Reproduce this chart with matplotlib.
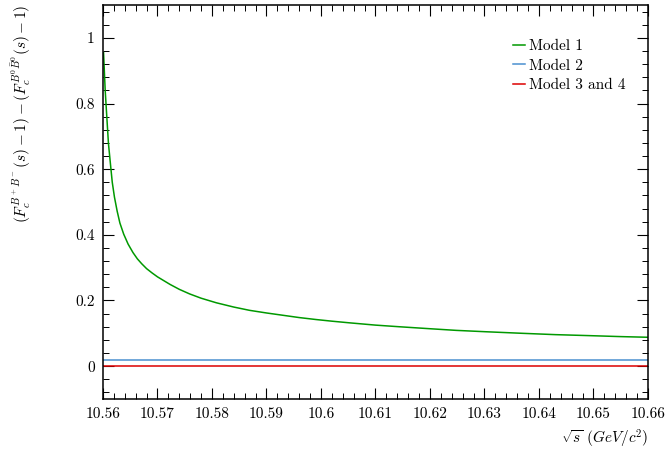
import numpy as np
import matplotlib
matplotlib.use('Agg')
import matplotlib.pyplot as plt
from matplotlib.ticker import MultipleLocator, FormatStrFormatter

# values
sqrt_s_m1 = [10.5601, 10.5602, 10.5604, 10.5607, 10.5610, 10.5614, 10.5617,
             10.5621, 10.5626, 10.5631, 10.5638, 10.5646, 10.5655, 10.5663,
             10.5671, 10.5680, 10.5690, 10.5700, 10.5712, 10.5723, 10.5740,
             10.5759, 10.5780, 10.5808, 10.5840, 10.5869, 10.5900, 10.5930,
             10.5960, 10.5991, 10.6020, 10.6052, 10.6100, 10.6144, 10.6200,
             10.6248, 10.6300, 10.6370, 10.6430, 10.6492, 10.6550, 10.6600]
diff_m1 = [0.955, 0.917, 0.841, 0.759, 0.678, 0.610, 0.560,
           0.515, 0.472, 0.436, 0.402, 0.372, 0.346, 0.327,
           0.312, 0.297, 0.284, 0.272, 0.260, 0.249, 0.234,
           0.220, 0.207, 0.193, 0.180, 0.170, 0.162, 0.155,
           0.148, 0.142, 0.137, 0.132, 0.125, 0.120, 0.114,
           0.109, 0.105, 0.100, 0.096, 0.093, 0.090, 0.088]

sqrt_s_flat = [10.56, 10.66]
diff_m2 = [0.018, 0.018]
diff_m34 = [0.0, 0.0]

plt.rcParams['font.family'] = 'serif'
plt.rcParams['font.serif'] = ['cmr10']
plt.rcParams['mathtext.fontset'] = 'cm'
plt.rcParams['axes.unicode_minus'] = False

fig = plt.figure(figsize=(6.71, 4.55), dpi=100)
ax = fig.add_axes([0.1535, 0.1231, 0.8122, 0.8659])

ax.plot(sqrt_s_m1, diff_m1, color='#009900', lw=1.1, label='Model 1')
ax.plot(sqrt_s_flat, diff_m2, color='#4a90d0', lw=1.1, label='Model 2')
ax.plot(sqrt_s_flat, diff_m34, color='#dd0000', lw=1.1, label='Model 3 and 4')

ax.set_xlim(10.56, 10.66)
ax.set_ylim(-0.1, 1.1)

ax.xaxis.set_major_locator(MultipleLocator(0.01))
ax.xaxis.set_minor_locator(MultipleLocator(0.002))
ax.yaxis.set_major_locator(MultipleLocator(0.2))
ax.yaxis.set_minor_locator(MultipleLocator(0.04))
ax.xaxis.set_major_formatter(FormatStrFormatter('%g'))
ax.yaxis.set_major_formatter(FormatStrFormatter('%g'))

ax.tick_params(which='both', direction='in', top=True, right=True, labelsize=11)
ax.tick_params(which='major', length=8, width=0.8, pad=6)
ax.tick_params(which='minor', length=4, width=0.7)
for sp in ax.spines.values():
    sp.set_linewidth(1.1)

ax.set_xlabel(r'$\sqrt{s}\ (GeV/c^2)$', loc='right', fontsize=11, labelpad=5)
ax.set_ylabel(r'$(F_c^{B^+B^-}(s)-1)-(F_c^{B^0\bar{B}^0}(s)-1)$', loc='top', fontsize=11)
ax.yaxis.set_label_coords(-0.128, 1.0)

ax.legend(loc='upper left', bbox_to_anchor=(0.752, 0.913), frameon=False,
          fontsize=11, handlelength=0.8, handletextpad=0.25, borderpad=0,
          borderaxespad=0, labelspacing=0.38)

fig.savefig('out.png', dpi=100)
